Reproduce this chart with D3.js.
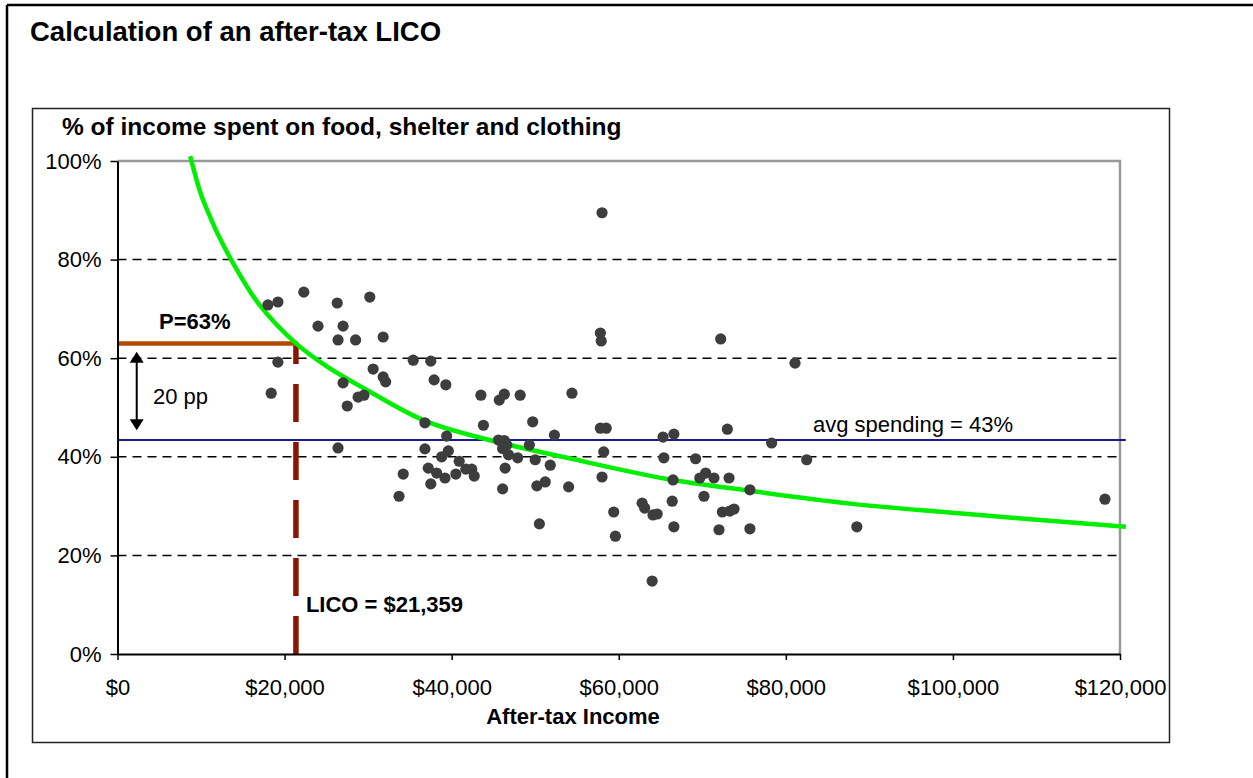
<!DOCTYPE html>
<html>
  <head>
    <style>
      body {
        margin: 0;
        background: #fff;
        font-family: "Liberation Sans", Arial, sans-serif;
      }
    </style>
  </head>
<body>
  <div id="chart"></div>

  <script src="https://d3js.org/d3.v7.min.js"></script>
  <script>

    // households: after-tax income ($) and % spent on food, shelter, clothing
    var incomes = [
      18000, 19200, 22300, 26300, 30200, 24000, 27000, 26400, 28500, 31800,
      19200, 18400, 35400, 37500, 30600, 31800, 32100, 27000, 37900, 39300,
      27500, 28800, 29500, 43500, 45700, 46300, 48200, 54400, 49700, 36800,
      43800, 39400, 52300, 57800, 58500, 65300, 66600, 73000, 78300, 58000,
      57800, 57900, 72200, 81100, 26400, 36800, 38800, 39600, 40900, 37200,
      38200, 39200, 34200, 37500, 40500, 41700, 42400, 42700, 33700, 45600,
      46300, 46600, 46100, 46800, 47900, 49300, 50000, 46400, 46100, 50200,
      51200, 50500, 51800, 54000, 58200, 58000, 59400, 59600, 62800, 63100,
      64100, 64600, 64000, 65400, 66500, 66400, 66600, 69200, 69700, 70400,
      71400, 73200, 70200, 72400, 73300, 73800, 72000, 75700, 75700, 82500,
      88500, 118200
    ];
    var shares = [
      70.8, 71.4, 73.4, 71.2, 72.4, 66.5, 66.5, 63.7, 63.7, 64.3,
      59.2, 52.9, 59.6, 59.4, 57.8, 56.2, 55.2, 55.0, 55.6, 54.6,
      50.3, 52.1, 52.5, 52.5, 51.5, 52.7, 52.5, 52.9, 47.1, 46.9,
      46.4, 44.2, 44.4, 45.8, 45.8, 44.0, 44.6, 45.6, 42.8, 89.5,
      65.1, 63.5, 63.9, 59.0, 41.8, 41.6, 40.0, 41.2, 39.1, 37.7,
      36.7, 35.7, 36.5, 34.5, 36.5, 37.5, 37.5, 36.1, 32.0, 43.4,
      43.3, 42.4, 41.7, 40.4, 39.8, 42.4, 39.4, 37.7, 33.5, 34.1,
      34.9, 26.4, 38.3, 33.9, 41.0, 35.9, 28.8, 23.9, 30.6, 29.6,
      28.2, 28.4, 14.8, 39.8, 35.3, 31.0, 25.8, 39.6, 35.7, 36.7,
      35.7, 35.7, 32.0, 28.8, 29.0, 29.4, 25.2, 33.3, 25.4, 39.4,
      25.8, 31.4
    ];

    // fitted curve
    var curveIncomes = [8700, 10000, 11000, 12000, 14000, 17000, 21359, 25000, 30000, 36800, 45000, 53800, 65800, 75700, 87700, 99600, 120700];
    var curveShares  = [101, 93.2, 89, 85.2, 78.8, 70.8, 63, 58.4, 53.4, 47.3, 43.2, 39.8, 35.5, 33.1, 30.5, 28.7, 25.8];

    var xTicks = [0, 20000, 40000, 60000, 80000, 100000, 120000];
    var yTicks = [0, 20, 40, 60, 80, 100];
    var gridTicks = [20, 40, 60, 80];

    var lico = 21359;
    var pShare = 63;
    var avgShare = 43.4;
    var ppTop = 61.3, ppBottom = 45.4, ppIncome = 2300;

    var W = 1253, H = 778;
    var svg = d3.select("#chart")
      .append("svg")
      .attr("width", W)
      .attr("height", H)
      .style("font-family", "'Liberation Sans', Arial, sans-serif");

    // outer page frame
    svg.append("line").attr("x1", 7).attr("x2", 7).attr("y1", 5).attr("y2", H)
      .attr("stroke", "#000").attr("stroke-width", 2.5);
    svg.append("line").attr("x1", 7).attr("x2", W).attr("y1", 5).attr("y2", 5)
      .attr("stroke", "#000").attr("stroke-width", 2.5);

    svg.append("text")
      .attr("x", 30).attr("y", 41)
      .style("font-size", "27.5px").style("font-weight", "bold")
      .text("Calculation of an after-tax LICO");

    // chart box
    svg.append("rect")
      .attr("x", 32.5).attr("y", 108.5).attr("width", 1137).attr("height", 634)
      .attr("fill", "none").attr("stroke", "#222").attr("stroke-width", 1.5);

    svg.append("text")
      .attr("x", 62).attr("y", 135)
      .style("font-size", "24.5px").style("font-weight", "bold")
      .text("% of income spent on food, shelter and clothing");

    var x = d3.scaleLinear().domain([0, 120000]).range([117.5, 1120]);
    var y = d3.scaleLinear().domain([0, 100]).range([654, 161]);

    // top & right border of plot
    svg.append("path")
      .attr("d", "M" + x(0) + "," + y(100) + "H" + x(120000) + "V" + y(0))
      .attr("fill", "none").attr("stroke", "#999").attr("stroke-width", 2.5);

    // dashed gridlines
    svg.append("g")
      .selectAll("line")
      .data(gridTicks)
      .enter()
      .append("line")
        .attr("x1", x(0)).attr("x2", x(120000))
        .attr("y1", function(d) { return y(d); })
        .attr("y2", function(d) { return y(d); })
        .attr("stroke", "#000").attr("stroke-width", 1.5)
        .attr("stroke-dasharray", "9,6");

    // avg spending line
    svg.append("line")
      .attr("x1", x(0)).attr("x2", x(120700))
      .attr("y1", y(avgShare)).attr("y2", y(avgShare))
      .attr("stroke", "#1a1a8c").attr("stroke-width", 2);

    svg.append("text")
      .attr("x", 813).attr("y", y(avgShare) - 8)
      .style("font-size", "22px")
      .text("avg spending = " + d3.format(".0f")(avgShare) + "%");

    // LICO dashed vertical
    svg.append("line")
      .attr("x1", x(lico)).attr("x2", x(lico))
      .attr("y1", y(0)).attr("y2", y(pShare))
      .attr("stroke", "#8b1505").attr("stroke-width", 5.5)
      .attr("stroke-dasharray", "38,20");

    // P horizontal
    svg.append("line")
      .attr("x1", x(0)).attr("x2", x(lico) + 2)
      .attr("y1", y(pShare)).attr("y2", y(pShare))
      .attr("stroke", "#b34a00").attr("stroke-width", 4.5);

    svg.append("text")
      .attr("x", 159).attr("y", y(pShare) - 14)
      .style("font-size", "22px").style("font-weight", "bold")
      .text("P=" + pShare + "%");

    svg.append("text")
      .attr("x", x(lico) + 10).attr("y", 612)
      .style("font-size", "22px").style("font-weight", "bold")
      .text("LICO = $" + d3.format(",")(lico));

    // 20 pp arrow
    var ax = x(ppIncome);
    svg.append("line")
      .attr("x1", ax).attr("x2", ax)
      .attr("y1", y(ppTop) + 8).attr("y2", y(ppBottom) - 8)
      .attr("stroke", "#000").attr("stroke-width", 2);
    svg.append("path")
      .attr("d", "M" + ax + "," + y(ppTop) + "l-7,11h14z")
      .attr("fill", "#000");
    svg.append("path")
      .attr("d", "M" + ax + "," + y(ppBottom) + "l-7,-11h14z")
      .attr("fill", "#000");
    svg.append("text")
      .attr("x", 153).attr("y", 404)
      .style("font-size", "22px")
      .text("20 pp");

    // fitted curve
    var curvePts = curveIncomes.map(function(d, i) { return [d, curveShares[i]]; });
    svg.append("path")
      .datum(curvePts)
      .attr("fill", "none")
      .attr("stroke", "#00ee00")
      .attr("stroke-width", 4.5)
      .attr("d", d3.line()
        .x(function(d) { return x(d[0]); })
        .y(function(d) { return y(d[1]); })
        .curve(d3.curveCatmullRom.alpha(0.5)));

    // dots
    svg.append("g")
      .selectAll("circle")
      .data(incomes.map(function(d, i) { return {inc: d, pct: shares[i]}; }))
      .enter()
      .append("circle")
        .attr("cx", function(d) { return x(d.inc); })
        .attr("cy", function(d) { return y(d.pct); })
        .attr("r", 5.6)
        .style("fill", "#3d3d3d");

    // axes
    var yAxis = svg.append("g")
      .attr("transform", "translate(" + x(0) + ",0)")
      .call(d3.axisLeft(y).tickValues(yTicks).tickSize(7).tickSizeOuter(0).tickPadding(9)
        .tickFormat(function(d) { return d + "%"; }));
    yAxis.select(".domain").attr("stroke-width", 2);
    yAxis.selectAll(".tick line").attr("stroke-width", 1.5);
    yAxis.selectAll("text").style("font-size", "22px").style("fill", "#000")
      .style("font-family", "'Liberation Sans', Arial, sans-serif");

    var xAxis = svg.append("g")
      .attr("transform", "translate(0," + y(0) + ")")
      .call(d3.axisBottom(x).tickValues(xTicks).tickSize(6).tickSizeOuter(0).tickPadding(19)
        .tickFormat(function(d) { return "$" + d3.format(",")(d); }));
    xAxis.select(".domain").attr("stroke-width", 2);
    xAxis.selectAll(".tick line").attr("stroke-width", 1.5);
    xAxis.selectAll("text").style("font-size", "22px").style("fill", "#000")
      .style("font-family", "'Liberation Sans', Arial, sans-serif");

    svg.append("text")
      .attr("x", 573).attr("y", 724)
      .style("text-anchor", "middle")
      .style("font-size", "22px").style("font-weight", "bold")
      .text("After-tax Income");

  </script>
</body>
</html>
